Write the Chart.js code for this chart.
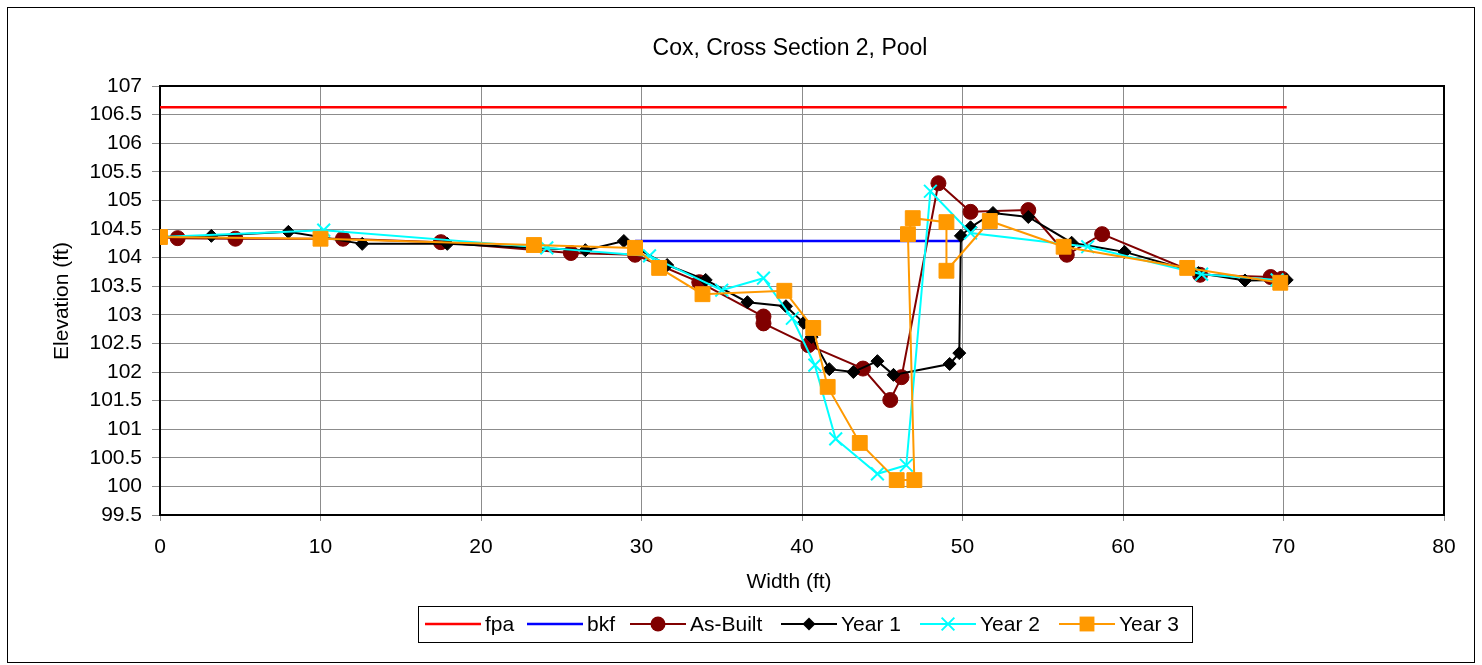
<!DOCTYPE html>
<html>
<head>
<meta charset="utf-8">
<title>Cox, Cross Section 2, Pool</title>
<script src="https://cdn.jsdelivr.net/npm/chart.js@4.4.1/dist/chart.umd.min.js"></script>
<style>
  html, body { margin: 0; padding: 0; background: #ffffff; }
  #wrap { width: 1482px; height: 665px; }
</style>
</head>
<body>
<div id="wrap"><canvas id="xs" width="1482" height="665"></canvas></div>
<script>
// Surveyed cross-section profiles (width along section in ft, elevation in ft)
const fpaX = [0, 70.2];
const fpaY = [106.63, 106.63];

const bkfX = [29.6, 49.9];
const bkfY = [104.29, 104.29];

const asBuiltX = [0, 1.1, 4.7, 11.4, 17.5, 25.6, 29.6, 33.6, 37.6, 37.6, 40.4, 43.8, 45.5, 46.2, 48.5, 50.5, 54.1, 56.5, 58.7, 64.8, 69.2, 69.9];
const asBuiltY = [104.36, 104.34, 104.33, 104.33, 104.27, 104.08, 104.05, 103.57, 102.97, 102.85, 102.47, 102.06, 101.51, 101.91, 105.30, 104.80, 104.83, 104.05, 104.41, 103.70, 103.66, 103.63];

const year1X = [0, 3.2, 8.0, 12.6, 17.9, 26.5, 28.9, 31.6, 34.0, 36.6, 39.0, 40.1, 40.6, 41.7, 43.2, 44.7, 45.7, 49.2, 49.8, 49.9, 50.5, 51.9, 54.1, 56.8, 60.1, 64.7, 67.6, 70.2];
const year1Y = [104.36, 104.38, 104.45, 104.24, 104.24, 104.13, 104.29, 103.87, 103.61, 103.22, 103.15, 102.86, 102.61, 102.05, 102.00, 102.19, 101.95, 102.14, 102.33, 104.38, 104.53, 104.78, 104.71, 104.26, 104.10, 103.73, 103.60, 103.61];

const year2X = [0, 10.2, 24.1, 30.5, 35.0, 37.6, 39.4, 40.8, 42.1, 44.7, 46.5, 48.0, 50.5, 57.8, 64.9, 69.6];
const year2Y = [104.36, 104.48, 104.17, 104.03, 103.43, 103.64, 102.94, 102.12, 100.83, 100.22, 100.37, 105.16, 104.43, 104.19, 103.71, 103.61];

const year3X = [0, 10.0, 23.3, 29.6, 31.1, 33.8, 38.9, 40.7, 41.6, 43.6, 45.9, 47.0, 46.6, 46.9, 49.0, 49.0, 51.7, 56.3, 64.0, 69.8];
const year3Y = [104.36, 104.33, 104.22, 104.17, 103.82, 103.36, 103.42, 102.77, 101.74, 100.76, 100.11, 100.11, 104.41, 104.69, 104.62, 103.77, 104.64, 104.19, 103.82, 103.56];

const seriesNames = ['fpa', 'bkf', 'As-Built', 'Year 1', 'Year 2', 'Year 3'];

const FONT = '"Liberation Sans", Arial, Helvetica, sans-serif';

function pts(xs, ys) {
  return xs.map((x, i) => ({ x: x, y: ys[i] }));
}

const styles = [
  { color: '#FF0000', width: 2.5, pointStyle: 'circle', radius: 0, fill: true },
  { color: '#0000FF', width: 2.5, pointStyle: 'circle', radius: 0, fill: true },
  { color: '#800000', width: 2, pointStyle: 'circle', radius: 7.5, fill: true },
  { color: '#000000', width: 2, pointStyle: 'rectRot', radius: 6.5, fill: true },
  { color: '#00FFFF', width: 2, pointStyle: 'crossRot', radius: 9, fill: false },
  { color: '#FF9900', width: 2, pointStyle: 'rect', radius: 10.5, fill: true }
];

const seriesData = [
  pts(fpaX, fpaY), pts(bkfX, bkfY), pts(asBuiltX, asBuiltY),
  pts(year1X, year1Y), pts(year2X, year2Y), pts(year3X, year3Y)
];

const datasets = seriesNames.map((name, i) => ({
  label: name,
  data: seriesData[i],
  showLine: true,
  tension: 0,
  borderColor: styles[i].color,
  backgroundColor: styles[i].color,
  borderWidth: styles[i].width,
  pointStyle: styles[i].pointStyle,
  pointRadius: styles[i].radius,
  pointHoverRadius: styles[i].radius,
  pointBorderWidth: i === 4 ? 2 : 1,
  pointBorderColor: styles[i].color,
  pointBackgroundColor: styles[i].fill ? styles[i].color : 'rgba(0,0,0,0)',
  order: seriesNames.length - i
}));

// Marker used in the legend samples
function marker(ctx, style, x, y) {
  const r = style.radius;
  ctx.save();
  ctx.fillStyle = style.color;
  ctx.strokeStyle = style.color;
  ctx.lineWidth = 2;
  ctx.beginPath();
  if (style.pointStyle === 'circle') {
    ctx.arc(x, y, r, 0, Math.PI * 2);
    ctx.fill();
  } else if (style.pointStyle === 'rectRot') {
    ctx.moveTo(x, y - r); ctx.lineTo(x + r, y); ctx.lineTo(x, y + r); ctx.lineTo(x - r, y);
    ctx.closePath(); ctx.fill();
  } else if (style.pointStyle === 'crossRot') {
    const o = r * Math.SQRT1_2;
    ctx.moveTo(x - o, y - o); ctx.lineTo(x + o, y + o);
    ctx.moveTo(x + o, y - o); ctx.lineTo(x - o, y + o);
    ctx.stroke();
  } else if (style.pointStyle === 'rect') {
    const s = r * Math.SQRT1_2;
    ctx.fillRect(x - s, y - s, 2 * s, 2 * s);
  }
  ctx.restore();
}

const frameAndLabels = {
  id: 'frameAndLabels',
  beforeDatasetsDraw(chart) {
    const a = chart.chartArea;
    const ctx = chart.ctx;
    ctx.save();
    ctx.strokeStyle = '#000000';
    ctx.lineWidth = 2;
    ctx.strokeRect(a.left, a.top, a.right - a.left, a.bottom - a.top);
    ctx.restore();
  },
  afterDraw(chart) {
    const ctx = chart.ctx;
    ctx.save();
    // outer border
    ctx.strokeStyle = '#000000';
    ctx.lineWidth = 1;
    ctx.strokeRect(7.5, 7.5, 1467, 655);

    ctx.fillStyle = '#000000';
    ctx.textAlign = 'center';
    ctx.textBaseline = 'middle';
    ctx.font = '23px ' + FONT;
    ctx.fillText('Cox, Cross Section 2, Pool', 790, 49);

    ctx.font = '21px ' + FONT;
    ctx.fillText('Width (ft)', 789, 582);

    ctx.save();
    ctx.translate(62, 301);
    ctx.rotate(-Math.PI / 2);
    ctx.fillText('Elevation (ft)', 0, 0);
    ctx.restore();

    // legend box
    const lx = 418, ly = 606, lw = 774, lh = 36;
    ctx.strokeStyle = '#000000';
    ctx.lineWidth = 1;
    ctx.strokeRect(lx + 0.5, ly + 0.5, lw, lh);
    const cy = ly + lh / 2;
    const itemX = [425, 527, 630, 781, 920, 1059];
    ctx.textAlign = 'left';
    ctx.font = '21px ' + FONT;
    seriesNames.forEach((name, i) => {
      const st = styles[i];
      const x0 = itemX[i];
      ctx.strokeStyle = st.color;
      ctx.lineWidth = st.width;
      ctx.beginPath();
      ctx.moveTo(x0, cy);
      ctx.lineTo(x0 + 56, cy);
      ctx.stroke();
      if (st.radius > 0) marker(ctx, st, x0 + 28, cy);
      ctx.fillStyle = '#000000';
      ctx.fillText(name, x0 + 60, cy + 1);
    });
    ctx.restore();
  }
};

new Chart(document.getElementById('xs'), {
  type: 'scatter',
  data: { datasets: datasets },
  options: {
    responsive: false,
    devicePixelRatio: 1,
    animation: false,
    layout: { padding: { left: 0, top: 86, right: 38, bottom: 0 } },
    plugins: {
      legend: { display: false },
      title: { display: false },
      tooltip: { enabled: false }
    },
    scales: {
      x: {
        type: 'linear',
        min: 0,
        max: 80,
        afterFit(s) { s.height = 150; },
        ticks: {
          stepSize: 10,
          color: '#000000',
          padding: 14,
          maxRotation: 0,
          font: { family: FONT, size: 21 }
        },
        grid: { color: '#8C8C8C', lineWidth: 1, tickLength: 6, drawTicks: true },
        border: { display: true, color: '#000000', width: 2 }
      },
      y: {
        type: 'linear',
        min: 99.5,
        max: 107,
        afterFit(s) { s.width = 160; },
        ticks: {
          stepSize: 0.5,
          color: '#000000',
          padding: 10,
          font: { family: FONT, size: 21 },
          callback: (v) => String(Math.round(v * 10) / 10)
        },
        grid: { color: '#8C8C8C', lineWidth: 1, tickLength: 8, drawTicks: true },
        border: { display: true, color: '#000000', width: 2 }
      }
    }
  },
  plugins: [frameAndLabels]
});
</script>
</body>
</html>
